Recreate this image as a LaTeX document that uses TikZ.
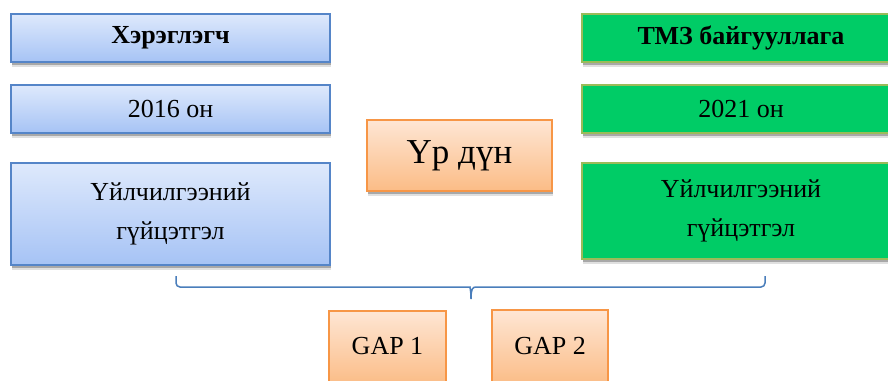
\documentclass[tikz,border=0pt]{standalone}
\usepackage{fontspec}
\setmainfont{Liberation Serif}
\usetikzlibrary{shadows}
\definecolor{bluetop}{HTML}{DEE9FC}
\definecolor{bluebot}{HTML}{A6C3F5}
\definecolor{blueline}{HTML}{5585C8}
\definecolor{grn}{HTML}{00CC66}
\definecolor{grnline}{HTML}{9BBB59}
\definecolor{ortop}{HTML}{FEE6D4}
\definecolor{orbot}{HTML}{FBBC86}
\definecolor{orline}{HTML}{F79646}
\definecolor{braceblue}{HTML}{4A7EBB}
\tikzset{
  softshadow/.style={
    general shadow={shadow xshift=1pt, shadow yshift=-5pt, fill=black, opacity=0.12},
    general shadow={shadow xshift=1pt, shadow yshift=-3pt, fill=black, opacity=0.25}},
  box/.style={draw, line width=1.2pt, softshadow, inner sep=0pt, align=center,
    font=\fontsize{26}{39}\selectfont},
  bluebox/.style={box, draw=blueline, top color=bluetop, bottom color=bluebot, minimum width=319pt},
  greenbox/.style={box, draw=grnline, fill=grn, minimum width=318pt},
  orangebox/.style={box, draw=orline, top color=ortop, bottom color=orbot},
  bracestyle/.style={draw=braceblue, line width=1.5pt}
}
\begin{document}
\begin{tikzpicture}[x=1pt,y=-1pt]
\useasboundingbox (0,0) rectangle (888,380);
\node[bluebox, minimum height=48pt, font=\fontsize{26}{39}\selectfont\bfseries] (l1) at (170.5,38) {Хэрэглэгч};
\node[bluebox, minimum height=48pt] (l2) at (170.5,109) {2016 он};
\node[bluebox, minimum height=102pt] (l3) at (170.5,214) {Үйлчилгээний\\гүйцэтгэл};
\node[greenbox, minimum height=48pt, font=\fontsize{26}{39}\selectfont\bfseries] (r1) at (741,38) {ТМЗ байгууллага};
\node[greenbox, minimum height=48pt] (r2) at (741,109) {2021 он};
\node[greenbox, minimum height=96pt] (r3) at (741,211) {Үйлчилгээний\\гүйцэтгэл};
\node[orangebox, minimum width=185pt, minimum height=71pt, font=\fontsize{35}{42}\selectfont] (c) at (459.5,155.5) {Үр дүн};
\node[orangebox, minimum width=117pt, minimum height=74pt] (g1) at (387.5,348) {\raisebox{4pt}{GAP 1}};
\node[orangebox, minimum width=116pt, minimum height=75pt] (g2) at (550,347.5) {\raisebox{4pt}{GAP 2}};
\coordinate (bl) at (176,276);
\coordinate (br) at (765,276);
\coordinate (bt) at (471,299);
\draw[bracestyle, rounded corners=4pt] (bl) -- (176,287) -- (466,287) [sharp corners]
  .. controls (469.5,287) and (471,289) .. (bt)
  .. controls (471,289) and (472.5,287) .. (476,287) [rounded corners=4pt] -- (765,287) -- (br);
\end{tikzpicture}
\end{document}
